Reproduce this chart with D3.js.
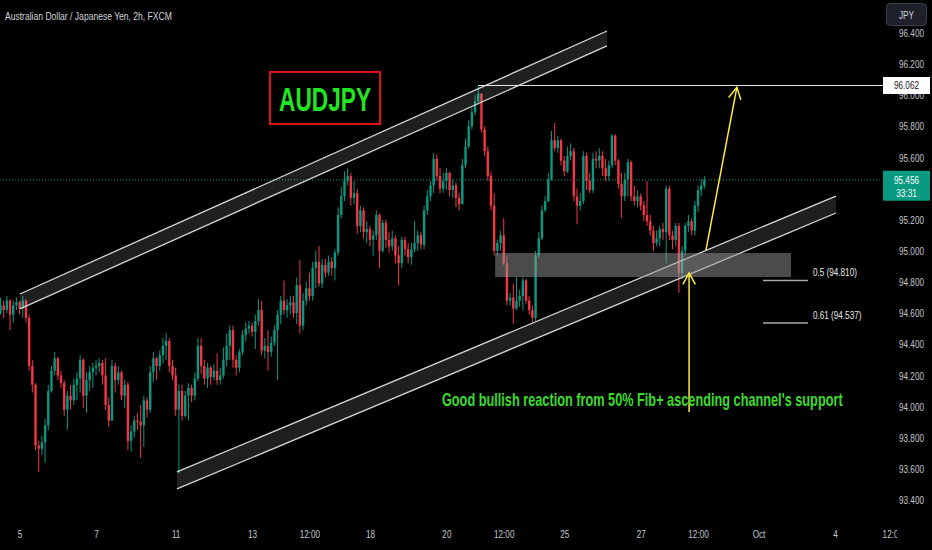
<!DOCTYPE html>
<html><head><meta charset="utf-8">
<script src="https://cdn.jsdelivr.net/npm/d3@7"></script>
<style>html,body{margin:0;padding:0;background:#000;overflow:hidden}</style>
</head><body><svg id="c" width="932" height="550"></svg>
<script>
// ---------- DATA (AUDJPY, 2h, FXCM) ----------
const opens = [
94.60,94.65,94.62,94.68,94.59,94.65,94.67,94.63,94.68,94.57,
94.26,94.14,93.75,93.73,93.77,93.88,94.10,94.23,94.31,94.20,
94.15,93.98,94.07,94.04,94.14,94.18,94.30,94.07,94.17,94.22,
94.25,94.26,94.28,94.20,94.01,93.91,94.26,94.17,94.22,94.07,
94.14,93.78,93.84,93.91,93.90,93.88,94.04,93.98,94.22,94.31,
94.26,94.33,94.39,94.42,94.26,94.20,93.98,94.10,93.94,94.07,
94.12,94.07,94.18,94.39,94.26,94.18,94.25,94.19,94.23,94.17,
94.20,94.30,94.39,94.49,94.30,94.25,94.35,94.46,94.50,94.52,
94.48,94.55,94.62,94.36,94.39,94.35,94.41,94.49,94.59,94.68,
94.62,94.65,94.67,94.60,94.78,94.52,94.68,94.76,94.71,94.89,
94.93,94.79,94.91,94.86,94.93,94.89,94.99,95.23,95.35,95.45,
95.48,95.34,95.37,95.16,95.26,95.12,95.14,95.07,95.10,95.23,
95.00,95.18,95.07,95.03,95.08,94.97,94.92,95.07,95.01,94.96,
95.01,95.05,95.10,95.04,95.26,95.35,95.42,95.59,95.48,95.40,
95.45,95.50,95.39,95.42,95.34,95.30,95.55,95.67,95.80,95.89,
95.96,96.01,95.78,95.64,95.48,95.29,95.00,95.05,95.10,94.92,
94.68,94.70,94.63,94.68,94.71,94.81,94.68,94.62,94.57,94.97,
95.08,95.26,95.32,95.46,95.71,95.66,95.71,95.58,95.51,95.61,
95.64,95.35,95.29,95.32,95.61,95.45,95.39,95.59,95.58,95.61,
95.53,95.48,95.55,95.74,95.58,95.43,95.35,95.46,95.57,95.35,
95.32,95.35,95.29,95.23,95.19,95.13,95.05,95.08,95.14,95.12,
95.40,95.10,95.07,95.16,94.86,95.00,95.16,95.19,95.13,95.29,
95.39,95.42];
const highs = [
94.70,94.68,94.71,94.69,94.68,94.70,94.68,94.71,94.69,94.59,
94.30,94.15,93.78,93.81,93.92,94.14,94.26,94.35,94.32,94.23,
94.17,94.10,94.14,94.18,94.22,94.33,94.31,94.22,94.26,94.28,
94.30,94.31,94.30,94.31,94.06,94.30,94.28,94.26,94.23,94.17,
94.16,93.88,93.94,93.96,94.01,94.07,94.06,94.26,94.35,94.32,
94.36,94.44,94.47,94.44,94.30,94.25,94.14,94.14,94.10,94.15,
94.14,94.22,94.44,94.44,94.30,94.28,94.26,94.27,94.34,94.25,
94.38,94.47,94.52,94.52,94.33,94.37,94.49,94.54,94.55,94.54,
94.59,94.69,94.68,94.44,94.49,94.45,94.52,94.62,94.71,94.81,
94.69,94.71,94.71,94.83,94.94,94.73,94.80,94.86,94.93,95.00,
95.03,94.95,94.95,94.97,94.96,95.01,95.28,95.41,95.51,95.53,
95.50,95.45,95.40,95.29,95.28,95.19,95.16,95.13,95.26,95.24,
95.20,95.20,95.12,95.13,95.10,95.03,95.09,95.09,95.05,95.05,
95.19,95.13,95.12,95.29,95.39,95.45,95.63,95.62,95.53,95.50,
95.53,95.51,95.46,95.44,95.37,95.59,95.72,95.84,95.92,96.00,
96.062,96.01,95.80,95.67,95.51,95.37,95.07,95.13,95.21,94.97,
94.73,94.79,94.83,94.75,94.83,94.82,94.71,94.65,95.00,95.12,
95.29,95.35,95.50,95.77,95.82,95.74,95.72,95.61,95.67,95.69,
95.66,95.40,95.37,95.64,95.63,95.50,95.63,95.64,95.66,95.64,
95.59,95.58,95.75,95.75,95.59,95.50,95.50,95.59,95.58,95.42,
95.39,95.37,95.32,95.45,95.23,95.16,95.13,95.16,95.18,95.42,
95.42,95.13,95.18,95.18,95.03,95.18,95.23,95.21,95.32,95.42,
95.46,95.48];
const lows = [
94.59,94.57,94.60,94.49,94.54,94.62,94.59,94.57,94.54,94.23,
94.09,93.72,93.58,93.69,93.64,93.85,94.09,94.20,94.17,94.12,
93.94,93.85,93.98,94.01,94.04,94.09,93.99,93.96,94.10,94.12,
94.20,94.22,94.14,93.98,93.87,93.91,94.09,94.14,94.04,93.99,
93.72,93.71,93.80,93.85,93.67,93.74,93.93,93.96,94.16,94.17,
94.23,94.28,94.30,94.22,94.17,93.94,93.57,93.91,93.93,93.91,
94.03,94.04,94.16,94.21,94.14,94.12,94.14,94.17,94.14,94.14,
94.18,94.26,94.30,94.25,94.20,94.22,94.33,94.42,94.47,94.45,
94.37,94.52,94.33,94.31,94.23,94.32,94.39,94.17,94.53,94.59,
94.57,94.59,94.57,94.53,94.47,94.49,94.65,94.68,94.68,94.76,
94.77,94.76,94.83,94.84,94.84,94.81,94.97,95.21,95.32,95.42,
95.29,95.30,95.11,95.12,95.08,95.05,95.03,94.97,95.07,94.89,
94.99,95.02,94.99,95.00,94.92,94.78,94.89,94.97,94.92,94.91,
94.99,95.00,95.01,95.01,95.23,95.32,95.37,95.45,95.37,95.37,
95.39,95.35,95.34,95.28,95.26,95.30,95.53,95.66,95.78,95.87,
95.94,95.76,95.61,95.45,95.26,94.97,94.97,95.00,94.91,94.65,
94.65,94.53,94.62,94.64,94.62,94.66,94.59,94.54,94.55,94.95,
95.07,95.25,95.31,95.45,95.64,95.63,95.55,95.48,95.50,95.58,
95.32,95.17,95.26,95.30,95.39,95.37,95.37,95.53,95.53,95.48,
95.45,95.45,95.53,95.55,95.40,95.21,95.32,95.35,95.32,95.29,
95.28,95.26,95.19,95.16,95.10,95.00,95.03,95.03,95.07,94.92,
95.07,95.01,95.03,94.73,94.82,94.97,95.12,95.10,95.10,95.25,
95.35,95.40];
const closes = [
94.65,94.62,94.68,94.59,94.65,94.67,94.63,94.68,94.57,94.26,
94.14,93.75,93.73,93.77,93.88,94.10,94.23,94.31,94.20,94.15,
93.98,94.07,94.04,94.14,94.18,94.30,94.07,94.17,94.22,94.25,
94.26,94.28,94.20,94.01,93.91,94.26,94.17,94.22,94.07,94.14,
93.78,93.84,93.91,93.90,93.88,94.04,93.98,94.22,94.31,94.26,
94.33,94.39,94.42,94.26,94.20,93.98,94.10,93.94,94.07,94.12,
94.07,94.18,94.39,94.26,94.18,94.25,94.19,94.23,94.17,94.20,
94.30,94.39,94.49,94.30,94.25,94.35,94.46,94.50,94.52,94.48,
94.55,94.62,94.36,94.39,94.35,94.41,94.49,94.59,94.68,94.62,
94.65,94.67,94.60,94.78,94.52,94.68,94.76,94.71,94.89,94.93,
94.79,94.91,94.86,94.93,94.89,94.99,95.23,95.35,95.45,95.48,
95.34,95.37,95.16,95.26,95.12,95.14,95.07,95.10,95.23,95.00,
95.18,95.07,95.03,95.08,94.97,94.92,95.07,95.01,94.96,95.01,
95.05,95.10,95.04,95.26,95.35,95.42,95.59,95.48,95.40,95.45,
95.50,95.39,95.42,95.34,95.30,95.55,95.67,95.80,95.89,95.96,
96.01,95.78,95.64,95.48,95.29,95.00,95.05,95.10,94.92,94.68,
94.70,94.63,94.68,94.71,94.81,94.68,94.62,94.57,94.97,95.08,
95.26,95.32,95.46,95.71,95.66,95.71,95.58,95.51,95.61,95.64,
95.35,95.29,95.32,95.61,95.45,95.39,95.59,95.58,95.61,95.53,
95.48,95.55,95.74,95.58,95.43,95.35,95.46,95.57,95.35,95.32,
95.35,95.29,95.23,95.19,95.13,95.05,95.08,95.14,95.12,95.40,
95.10,95.07,95.16,94.86,95.00,95.16,95.19,95.13,95.29,95.39,
95.42,95.456];

const priceTicks = [96.4,96.2,96.0,95.8,95.6,95.2,95.0,94.8,94.6,94.4,94.2,94.0,93.8,93.6,93.4];
const timeTickIdx = [6,30,55,79,97,116,140,158,177,201,219,238,262,280];
const timeTickLabels = ["5","7","11","13","12:00","18","20","12:00","25","27","12:00","Oct","4","12:00"];

const headerText = "Australian Dollar / Japanese Yen, 2h, FXCM";
const currencyLabel = "JPY";
const lastPrice = 95.456;
const countdown = "33:31";
const swingHighIdx = 150;
const swingHigh = 96.062;

const upperChannelIdx = [6.1, 190.4];
const upperChannelTop = [94.723, 96.412];
const upperChannelBottom = [94.627, 96.316];
const lowerChannelIdx = [55.4, 262.3];
const lowerChannelTop = [93.580, 95.352];
const lowerChannelBottom = [93.471, 95.243];

const fibZoneIdx = [155.3, 248.2];
const fibZonePrice = [94.832, 94.986];
const fibLineIdx = [239.4, 253.5];
const fibPrices = [94.810, 94.537];
const fibLabels = ["0.5 (94.810)", "0.61 (94.537)"];

const arrowTargetIdx = [221.5, 231.2];
const arrowTargetPrice = [95.005, 96.05];
const arrowReactIdx = [216.2, 216.2];
const arrowReactPrice = [93.965, 94.858];

const noteText = "Good bullish reaction from 50% Fib+ ascending channel's support";
const noteIdx = 138.6, notePrice = 94.003;
const symbolText = "AUDJPY";
const symbolBoxIdx = [84.6, 119.2];
const symbolBoxPrice = [95.815, 96.149];

// ---------- CHART ----------
const W = 932, H = 550, PW = 880, PH = 520;
const FONT = "'Liberation Sans', Arial, sans-serif";
const UP = "#089981", DOWN = "#f23645";
const K = 0.71; // horizontal squeeze of the screenshot's text
const svg = d3.select("#c").style("font-family", FONT);
svg.append("rect").attr("width", W).attr("height", H).attr("fill", "#000");

const x = d3.scaleLinear().domain([0, 276]).range([0.5, 0.5 + 3.185 * 276]);
const y = d3.scaleLinear().domain([93.4, 96.2]).range([500, 64]);

const defs = svg.append("defs");
defs.append("clipPath").attr("id", "clip")
  .append("rect").attr("x", 0).attr("y", 0).attr("width", PW).attr("height", PH);
defs.append("clipPath").attr("id", "clipx")
  .append("rect").attr("x", 0).attr("y", PH).attr("width", 897).attr("height", H - PH);
const plot = svg.append("g").attr("clip-path", "url(#clip)");

// place a text at (px,py) squeezed horizontally by factor k (or to a target width)
function put(g, str, px, py, size, fill, opt) {
  opt = opt || {};
  const t = g.append("text").attr("font-size", size).attr("fill", fill)
    .attr("text-anchor", opt.anchor || "start").attr("font-weight", opt.weight || "normal").text(str);
  let k = opt.k || K;
  if (opt.width) k = opt.width / t.node().getComputedTextLength();
  t.attr("transform", `translate(${px},${py}) scale(${k},1)`);
  return t;
}

// last price dotted line
plot.append("line").attr("x1", 0).attr("x2", PW)
  .attr("y1", y(lastPrice)).attr("y2", y(lastPrice))
  .attr("stroke", UP).attr("stroke-width", 1).attr("stroke-dasharray", "1,2");

// candles
const idx = d3.range(closes.length);
const cg = plot.append("g");
cg.selectAll("line").data(idx).join("line")
  .attr("x1", i => x(i)).attr("x2", i => x(i))
  .attr("y1", i => y(highs[i])).attr("y2", i => y(lows[i]))
  .attr("stroke", i => closes[i] >= opens[i] ? UP : DOWN).attr("stroke-width", 1);
cg.selectAll("rect").data(idx).join("rect")
  .attr("x", i => x(i) - 1.2).attr("width", 2.4)
  .attr("y", i => y(Math.max(opens[i], closes[i])))
  .attr("height", i => Math.max(1, Math.abs(y(opens[i]) - y(closes[i]))))
  .attr("fill", i => closes[i] >= opens[i] ? UP : DOWN);

// channels
function channel(ix, top, bot) {
  const pts = [[x(ix[0]), y(top[0])], [x(ix[1]), y(top[1])], [x(ix[1]), y(bot[1])], [x(ix[0]), y(bot[0])]];
  plot.append("polygon").attr("points", pts.map(p => p.join(",")).join(" "))
    .attr("fill", "rgba(190,190,190,0.16)");
  [top, bot].forEach(arr => {
    plot.append("line").attr("x1", x(ix[0])).attr("y1", y(arr[0]))
      .attr("x2", x(ix[1])).attr("y2", y(arr[1]))
      .attr("stroke", "#d6d6d6").attr("stroke-width", 1.3);
  });
}
channel(upperChannelIdx, upperChannelTop, upperChannelBottom);
channel(lowerChannelIdx, lowerChannelTop, lowerChannelBottom);

// fib zone
plot.append("rect").attr("x", x(fibZoneIdx[0])).attr("width", x(fibZoneIdx[1]) - x(fibZoneIdx[0]))
  .attr("y", y(fibZonePrice[1])).attr("height", y(fibZonePrice[0]) - y(fibZonePrice[1]))
  .attr("fill", "rgba(150,150,150,0.5)");

// fib lines + labels
fibPrices.forEach((p, k) => {
  plot.append("line").attr("x1", x(fibLineIdx[0])).attr("x2", x(fibLineIdx[1]))
    .attr("y1", y(p)).attr("y2", y(p)).attr("stroke", "#a8a8a8").attr("stroke-width", 1.5);
  put(plot, fibLabels[k], x(fibLineIdx[1]) + 5, y(p) - 4, 11.5, "#e8e8e8");
});

// arrows
function arrow(ix, pr) {
  const x1 = x(ix[0]), y1 = y(pr[0]), x2 = x(ix[1]), y2 = y(pr[1]);
  plot.append("line").attr("x1", x1).attr("y1", y1).attr("x2", x2).attr("y2", y2)
    .attr("stroke", "#ffeb3b").attr("stroke-width", 1.5);
  const a = Math.atan2(y2 - y1, x2 - x1), L = 13, s = 0.5;
  const p1 = [x2 - L * Math.cos(a - s), y2 - L * Math.sin(a - s)];
  const p2 = [x2 - L * Math.cos(a + s), y2 - L * Math.sin(a + s)];
  plot.append("polyline").attr("points", [p1, [x2, y2], p2].map(p => p.join(",")).join(" "))
    .attr("fill", "none").attr("stroke", "#ffeb3b").attr("stroke-width", 1.5);
}
arrow(arrowTargetIdx, arrowTargetPrice);
arrow(arrowReactIdx, arrowReactPrice);

// note
put(plot, noteText, x(noteIdx), y(notePrice), 18, "#3bdc2c", { width: 401, weight: "bold" });

// symbol box
plot.append("rect").attr("x", x(symbolBoxIdx[0])).attr("width", x(symbolBoxIdx[1]) - x(symbolBoxIdx[0]))
  .attr("y", y(symbolBoxPrice[1])).attr("height", y(symbolBoxPrice[0]) - y(symbolBoxPrice[1]))
  .attr("fill", "none").attr("stroke", "#e3141b").attr("stroke-width", 2);
put(plot, symbolText, (x(symbolBoxIdx[0]) + x(symbolBoxIdx[1])) / 2, y(symbolBoxPrice[0]) - 13, 33, "#22e622",
  { anchor: "middle", width: 92, weight: "bold" });

// header
put(svg, headerText, 5, 20, 11.5, "#d1d4dc", { width: 167 });

// swing high line
svg.append("line").attr("x1", x(swingHighIdx)).attr("x2", 884)
  .attr("y1", y(swingHigh)).attr("y2", y(swingHigh)).attr("stroke", "#e8e8e8").attr("stroke-width", 1);

// right axis
const ya = svg.append("g").attr("transform", "translate(899,0)")
  .call(d3.axisRight(y).tickValues(priceTicks).tickFormat(d3.format(".3f")).tickSize(0).tickPadding(0));
ya.select(".domain").remove();
ya.selectAll("text").attr("fill", "#c3c6ce").attr("font-size", 11.5).attr("font-family", FONT)
  .attr("transform", `scale(${K},1)`);

// bottom axis
const xa = svg.append("g").attr("clip-path", "url(#clipx)").append("g").attr("transform", "translate(0,530)")
  .call(d3.axisBottom(x).tickValues(timeTickIdx).tickFormat((d, k) => timeTickLabels[k]).tickSize(0).tickPadding(0));
xa.select(".domain").remove();
xa.selectAll("text").attr("fill", "#c3c6ce").attr("font-size", 11.5).attr("font-family", FONT)
  .attr("transform", `scale(${K},1)`);

// swing high tag
const ys = y(swingHigh);
svg.append("rect").attr("x", 883).attr("y", ys - 8.5).attr("width", 47).attr("height", 17).attr("fill", "#ffffff");
put(svg, d3.format(".3f")(swingHigh), 906.5, ys + 4, 11.5, "#131722", { anchor: "middle" });

// last price tag
const yl = y(lastPrice);
svg.append("rect").attr("x", 883).attr("y", yl - 9).attr("width", 47).attr("height", 30).attr("rx", 1).attr("fill", UP);
put(svg, d3.format(".3f")(lastPrice), 906.5, yl + 4, 11.5, "#ffffff", { anchor: "middle" });
put(svg, countdown, 906.5, yl + 17, 11.5, "#ffffff", { anchor: "middle" });

// currency button
svg.append("rect").attr("x", 886.5).attr("y", 3.5).attr("width", 40).attr("height", 22).attr("rx", 4)
  .attr("fill", "#1e2129").attr("stroke", "#3a3e48");
put(svg, currencyLabel, 906.5, 18.5, 11.5, "#d1d4dc", { anchor: "middle" });
</script></body></html>
